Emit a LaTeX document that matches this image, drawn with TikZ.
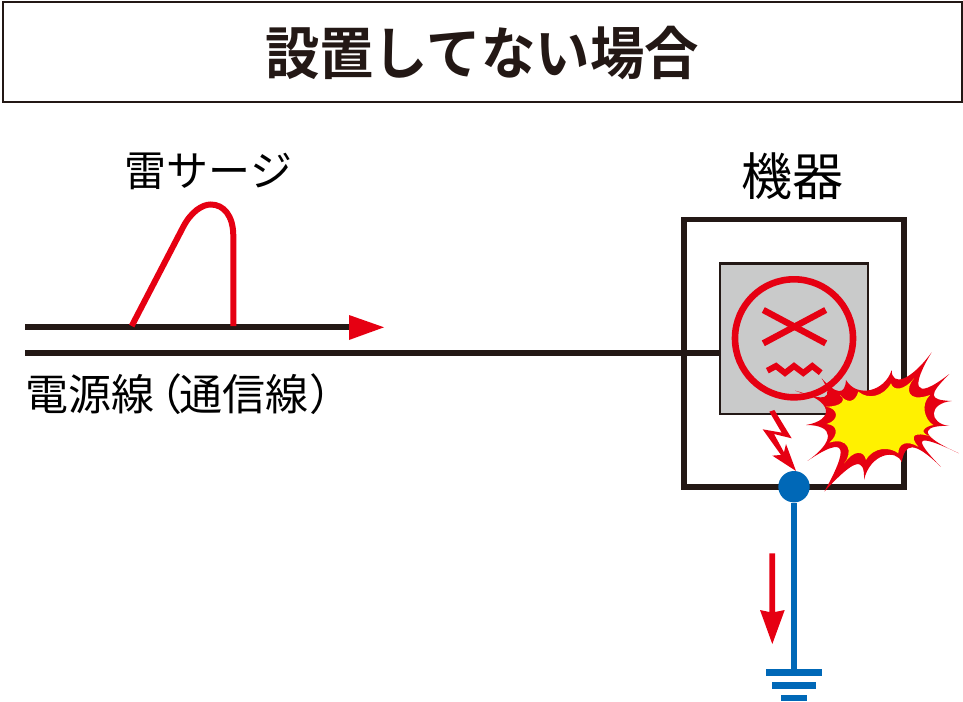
\documentclass[tikz,border=0pt]{standalone}
\usepackage{fontspec}
\newfontfamily\jpreg{Noto Sans CJK JP}
\newfontfamily\jpbold{Noto Sans CJK JP Bold}
\definecolor{ink}{HTML}{231815}
\definecolor{alarm}{HTML}{E60012}
\definecolor{earth}{HTML}{0068B7}
\definecolor{panel}{HTML}{C9CACA}
\definecolor{flash}{HTML}{FFF100}
\tikzset{
  label/.style={inner sep=0pt,text=black,font=\jpreg\fontsize{42}{42}\selectfont},
  wire/.style={draw=ink,line width=6.3pt},
  redline/.style={draw=alarm,line width=6pt},
  earthline/.style={draw=earth,line width=6pt},
  bar/.style={fill=earth,draw=none,minimum height=6.4pt,inner sep=0pt},
}
\begin{document}
\begin{tikzpicture}[x=1pt,y=-1pt]
\useasboundingbox (0,0) rectangle (963,701);
% title
\node[draw=ink,line width=2pt,minimum width=959pt,minimum height=99pt,inner sep=0pt,anchor=north west] (titlebox) at (1.5,1.5) {};
\node[inner sep=0pt,text=ink,xscale=0.955,font=\jpbold\fontsize{57}{57}\selectfont] (title) at (482,53) {設置してない場合};
% labels
\node[label] (surgelabel) at (208.5,171) {雷サージ};
\node[label,font=\jpreg\fontsize{51}{51}\selectfont] (devlabel) at (792.5,176) {機器};
\node[label,anchor=west,font=\jpreg\fontsize{43}{43}\selectfont] (linelabel) at (25.5,394) {電源線\kern-0.36em（\kern-0.07em通信線\kern0.02em）};
% device
\node[draw=ink,line width=5.8pt,minimum width=219.7pt,minimum height=267.5pt,inner sep=0pt] (outer) at (794.2,353.3) {};
\node[draw=ink,fill=panel,line width=2.4pt,minimum width=148pt,minimum height=150.2pt,inner sep=0pt] (inner) at (794,338.6) {};
% wires
\coordinate (topstart) at (25,327);
\coordinate (topend) at (352,327);
\coordinate (botstart) at (25,353);
\draw[wire] (topstart) -- (topend);
\draw[wire] (botstart) -- (botstart -| inner.west);
\fill[alarm] (349,315) -- (384,327.3) -- (349,340) -- cycle;
% surge
\draw[redline] (131.7,326) -- (183.3,226.7) .. controls (191,212) and (202,204.5) .. (210.7,204.5)
  .. controls (224,204.5) and (233.3,216) .. (233.3,236) -- (233.3,326);
% face
\node[draw=alarm,line width=6.6pt,circle,minimum size=118pt,inner sep=0pt] (face) at (794,338.3) {};
\draw[redline,line width=6.4pt] (763.3,310) -- (825.7,343.3);
\draw[redline,line width=6.4pt] (763.3,343.3) -- (825.7,310);
\draw[redline,line width=6pt,line join=miter] (767.3,370.7) -- (776,366) -- (785,373) -- (794,366) -- (803.3,373) -- (812.3,366) -- (820.7,372.7);
% burst
\begin{scope}[shift={(790,345)},x=0.3333pt,y=-0.3333pt]
\fill[alarm]
 (425,22) .. controls (365,120) and (365,175) .. (478,87)
 .. controls (415,150) and (415,165) .. (485,168)
 .. controls (415,175) and (415,235) .. (478,243)
 .. controls (415,240) and (360,260) .. (507,325)
 .. controls (370,260) and (370,280) .. (452,365)
 .. controls (370,285) and (345,295) .. (335,352)
 .. controls (320,310) and (240,325) .. (222,405)
 .. controls (225,330) and (190,345) .. (103,440)
 .. controls (175,310) and (175,265) .. (52,348)
 .. controls (135,290) and (135,240) .. (48,240)
 .. controls (135,225) and (130,165) .. (15,137)
 .. controls (105,170) and (135,165) .. (95,100)
 .. controls (140,150) and (165,150) .. (168,105)
 .. controls (200,160) and (285,140) .. (305,75)
 .. controls (305,125) and (360,110) .. (425,22) -- cycle;
\fill[flash]
 (372,100) .. controls (345,130) and (350,175) .. (420,150)
 .. controls (390,180) and (405,225) .. (430,240)
 .. controls (400,245) and (385,265) .. (425,275)
 .. controls (375,260) and (355,270) .. (385,305)
 .. controls (350,285) and (325,295) .. (325,325)
 .. controls (300,305) and (250,305) .. (228,345)
 .. controls (222,315) and (190,315) .. (163,355)
 .. controls (190,320) and (175,275) .. (118,293)
 .. controls (145,270) and (145,240) .. (110,237)
 .. controls (150,225) and (145,190) .. (108,185)
 .. controls (155,185) and (170,165) .. (150,150)
 .. controls (170,175) and (195,175) .. (205,140)
 .. controls (235,165) and (280,155) .. (303,115)
 .. controls (310,140) and (345,135) .. (372,100) -- cycle;
\end{scope}
% lightning
\begin{scope}[shift={(680,210)},x=0.3333pt,y=-0.3333pt]
\fill[alarm] (268,605) -- (283,600) -- (335,685) -- (282,672) -- (312,727) -- (318,702) -- (348,783) -- (277,737) -- (303,735) -- (248,658) -- (305,668) -- cycle;
\end{scope}
% earth
\node[circle,fill=earth,minimum size=31.4pt,inner sep=0pt] (dot) at (794,486.7) {};
\node[bar,minimum width=56.6pt] (g1) at (794,672.3) {};
\node[bar,minimum width=43.4pt] (g2) at (794,685.3) {};
\node[bar,minimum width=26.6pt] (g3) at (794,697.7) {};
\draw[earthline] (dot) -- (g1);
% current arrow
\fill[alarm] (769.3,553.3) -- (775,553.3) -- (775,612) -- (784.7,610) -- (772.3,644) -- (760,610) -- (769.3,612) -- cycle;
\end{tikzpicture}
\end{document}
